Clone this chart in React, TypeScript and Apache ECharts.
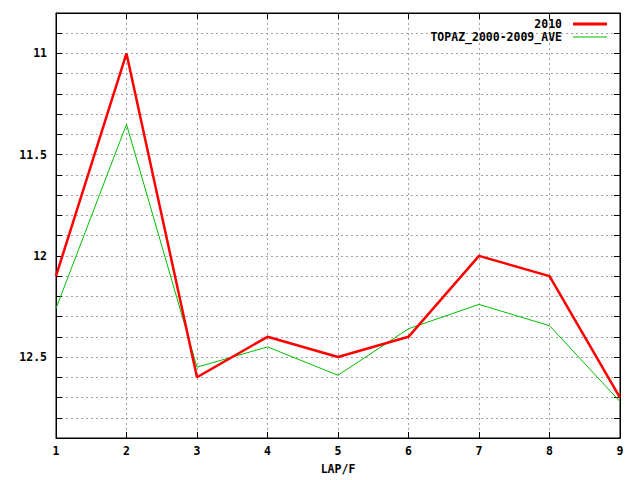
import React, { useEffect, useRef } from "react";
import * as echarts from "echarts";

const laps = [1, 2, 3, 4, 5, 6, 7, 8, 9];
const series2010 = [12.1, 11.0, 12.6, 12.4, 12.5, 12.4, 12.0, 12.1, 12.7];
const seriesAve = [12.26, 11.35, 12.55, 12.45, 12.59, 12.36, 12.24, 12.345, 12.72];
const seriesNames = ["2010", "TOPAZ_2000-2009_AVE"];
const xTitle = "LAP/F";

const FONT = "DejaVu Sans Mono";

export default function App() {
  const ref = useRef<HTMLDivElement>(null);
  useEffect(() => {
    document.body.style.margin = "0";
    const chart = echarts.init(ref.current!, null, { renderer: "svg" });
    const isMajor = (v: number) => Math.abs(v * 2 - Math.round(v * 2)) < 1e-6;
    const grid = { left: 56, right: 20, top: 13, bottom: 39 };
    const dash = { color: "#a0a0a0", type: [2, 3] as any, width: 1 };
    const legendText = {
      fontFamily: FONT,
      fontWeight: "bold",
      fontSize: 11.5,
      lineHeight: 11,
      color: "#000",
      padding: [0, 6, 0, 0],
    };
    chart.setOption({
      animation: false,
      backgroundColor: "#ffffff",
      grid: { ...grid, show: true, borderColor: "#000", borderWidth: 1, backgroundColor: "transparent" },
      legend: [
        {
          data: [seriesNames[0]],
          right: 33,
          top: 18,
          padding: 0,
          align: "right",
          icon: "rect",
          itemWidth: 34,
          itemHeight: 3,
          itemGap: 0,
          selectedMode: false,
          textStyle: legendText,
        },
        {
          data: [seriesNames[1]],
          right: 33,
          top: 31,
          padding: 0,
          align: "right",
          icon: "rect",
          itemWidth: 34,
          itemHeight: 1,
          itemGap: 0,
          selectedMode: false,
          textStyle: legendText,
        },
      ],
      xAxis: [
        {
          type: "value",
          min: 1,
          max: 9,
          interval: 1,
          name: xTitle,
          nameLocation: "middle",
          nameGap: 25,
          nameTextStyle: { fontFamily: FONT, fontWeight: "bold", fontSize: 11.5, color: "#000" },
          axisLine: { show: true, lineStyle: { color: "#000" } },
          axisTick: { show: true, inside: true, length: 6, lineStyle: { color: "#000" } },
          axisLabel: { margin: 7, fontFamily: FONT, fontWeight: "bold", fontSize: 11.5, color: "#000" },
          splitLine: { show: true, lineStyle: dash },
        },
        {
          type: "value",
          position: "top",
          min: 1,
          max: 9,
          interval: 1,
          axisLine: { show: true, lineStyle: { color: "#000" } },
          axisTick: { show: true, inside: true, length: 6, lineStyle: { color: "#000" } },
          axisLabel: { show: false },
          splitLine: { show: false },
        },
      ],
      yAxis: [
        {
          type: "value",
          inverse: true,
          min: 10.8,
          max: 12.9,
          interval: 0.1,
          axisLine: { show: true, lineStyle: { color: "#000" } },
          axisTick: { show: true, inside: true, length: 6, lineStyle: { color: "#000" } },
          axisLabel: {
            margin: 9,
            fontFamily: FONT,
            fontWeight: "bold",
            fontSize: 11.5,
            color: "#000",
            showMinLabel: false,
            showMaxLabel: false,
            formatter: (v: number) => (isMajor(v) ? String(+v.toFixed(1)) : ""),
          },
          splitLine: { show: true, lineStyle: dash },
        },
        {
          type: "value",
          position: "right",
          inverse: true,
          min: 10.8,
          max: 12.9,
          interval: 0.1,
          axisLine: { show: true, lineStyle: { color: "#000" } },
          axisTick: { show: true, inside: true, length: 6, lineStyle: { color: "#000" } },
          axisLabel: { show: false },
          splitLine: { show: false },
        },
      ],
      series: [
        {
          name: seriesNames[0],
          type: "line",
          symbol: "none",
          data: laps.map((x, i) => [x, series2010[i]]),
          lineStyle: { color: "#ff0000", width: 2.5 },
          itemStyle: { color: "#ff0000" },
          z: 3,
        },
        {
          name: seriesNames[1],
          type: "line",
          symbol: "none",
          data: laps.map((x, i) => [x, seriesAve[i]]),
          lineStyle: { color: "#00c000", width: 1 },
          itemStyle: { color: "#00c000" },
          z: 2,
        },
      ],
    });
    return () => chart.dispose();
  }, []);
  return <div ref={ref} style={{ width: 640, height: 480 }} />;
}
